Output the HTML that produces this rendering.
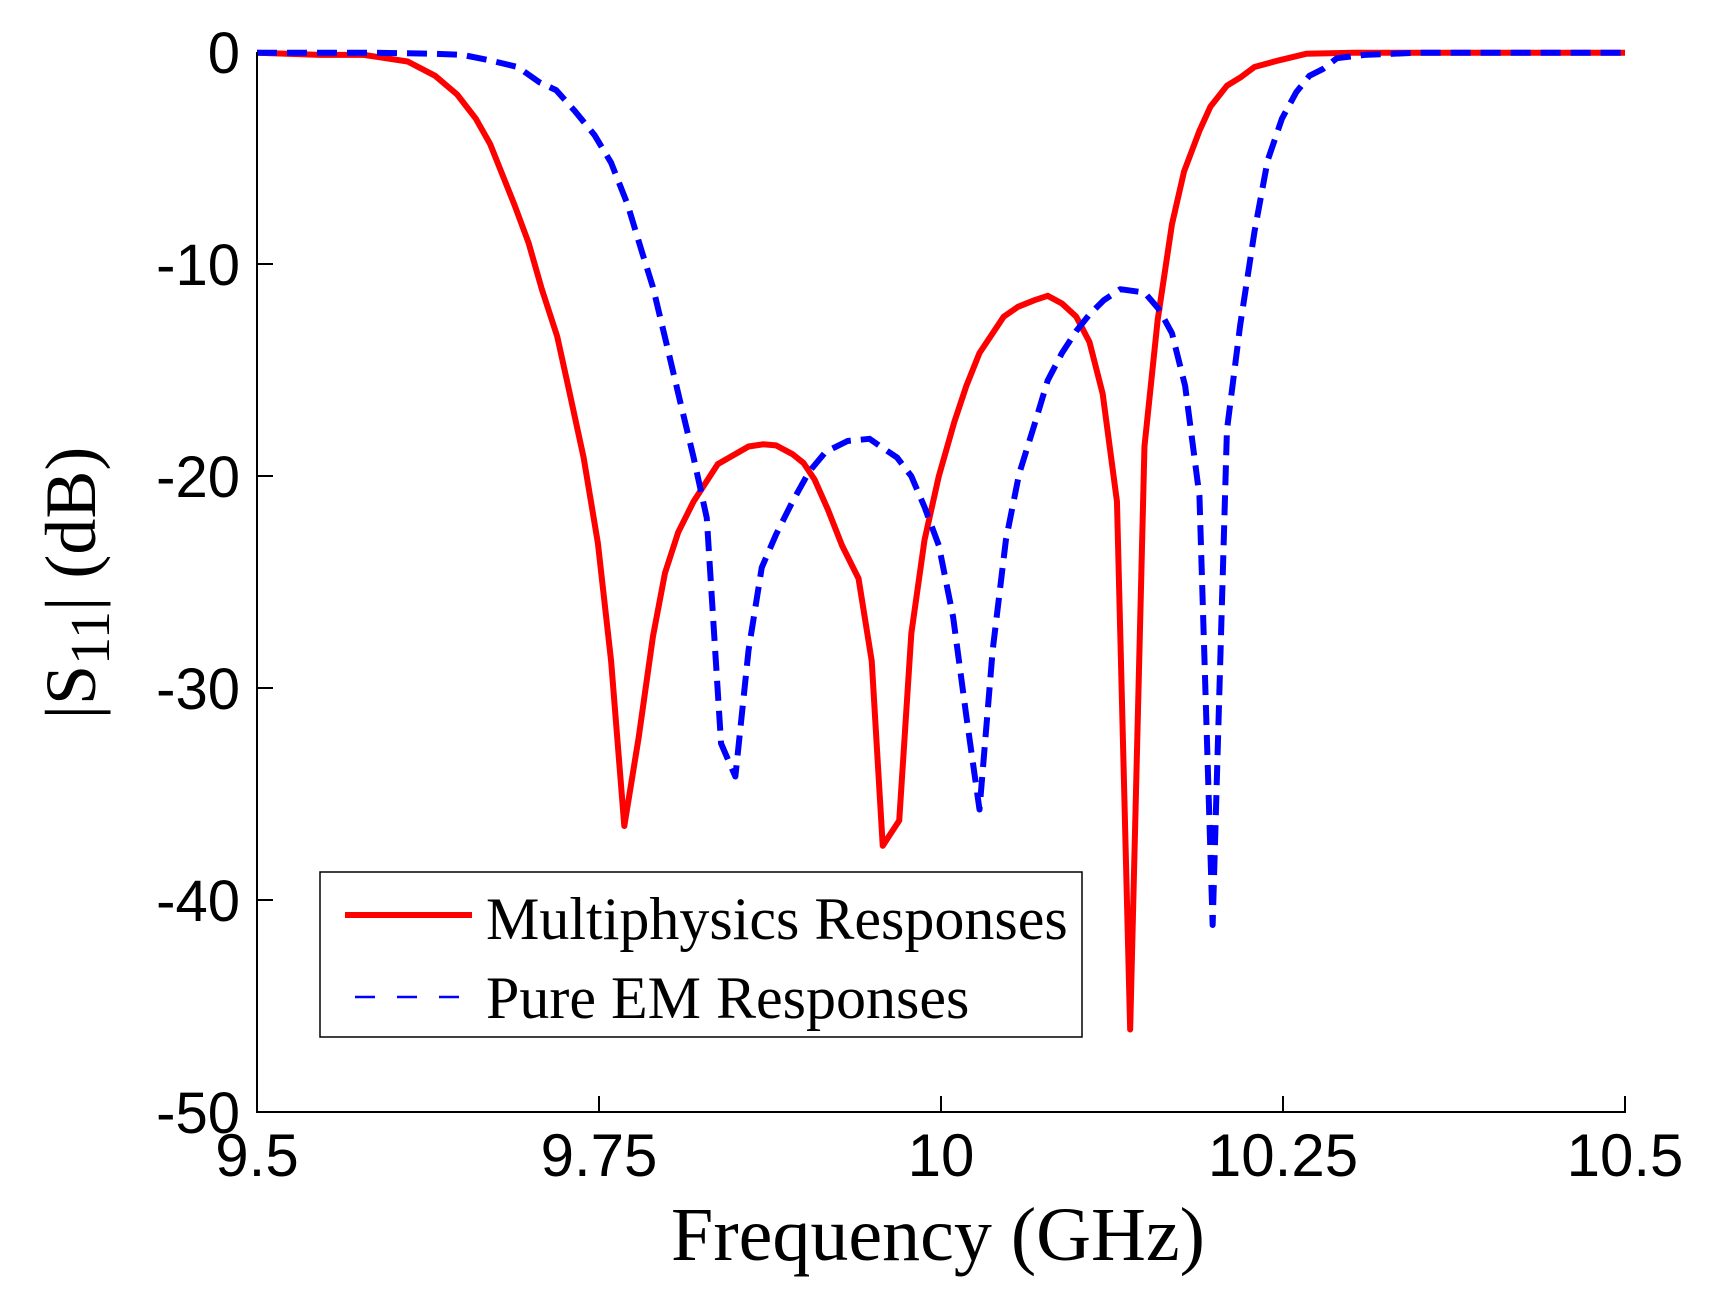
<!DOCTYPE html>
<html><head><meta charset="utf-8"><style>
html,body{margin:0;padding:0;background:#fff;}
svg{display:block;}
</style></head><body>
<svg width="1725" height="1296" viewBox="0 0 1725 1296" xmlns="http://www.w3.org/2000/svg">
<rect width="1725" height="1296" fill="#fff"/>
<g transform="translate(257,52.7) scale(1.0997,1.1) translate(-233,-47)" fill="none" stroke-linejoin="round">
<polyline vector-effect="non-scaling-stroke" stroke="#ff0000" stroke-width="6" points="233,47 290,49 330,49 370,55 395,68 415,85 432,107 445,130 467,185 480,220 492,262 506,305 517,355 530,415 543,493 555,600 567,750 580,670 593,578 604,520 616,483 630,455 652,421 680,405 693,403 705,404 720,412 730,420 740,435 752,462 765,495 780,525 792,600 802,768 817,745 828,575 840,490 853,432 867,383 878,350 890,320 912,287 925,278 940,272 952,268 965,275 978,287 990,310 1002,357 1015,455 1027,935 1040,405 1052,290 1065,203 1076,155 1090,118 1100,96 1115,77 1128,69 1140,60 1162,54 1187,48 1230,47 1477,47"/>
<polyline vector-effect="non-scaling-stroke" stroke="#0000ff" stroke-width="6" stroke-dasharray="20,10" points="233,47 340,47 395,48 420,49 445,54 470,60 490,74 505,81 522,100 540,122 555,147 570,185 583,228 593,260 605,310 618,365 630,415 642,470 655,675 668,705 680,590 692,515 705,485 720,455 735,428 750,410 770,400 790,398 800,405 815,415 828,432 840,460 853,495 866,560 878,650 890,735 902,590 914,490 926,430 940,385 952,345 965,320 978,300 990,285 1003,272 1018,262 1040,265 1053,280 1065,302 1077,350 1090,450 1102,840 1115,390 1127,295 1140,210 1152,145 1165,107 1178,83 1190,68 1202,62 1215,52 1240,49 1290,47 1477,47"/>
</g>
<g stroke="#000" stroke-width="2" fill="none">
<polyline points="257,52 257,1112 1625,1112 1625,1096"/>
<line x1="257" y1="264" x2="273" y2="264"/>
<line x1="257" y1="476" x2="273" y2="476"/>
<line x1="257" y1="688" x2="273" y2="688"/>
<line x1="257" y1="900" x2="273" y2="900"/>
<line x1="599" y1="1112" x2="599" y2="1096"/>
<line x1="941" y1="1112" x2="941" y2="1096"/>
<line x1="1283" y1="1112" x2="1283" y2="1096"/>
</g>
<g font-family="Liberation Sans, Arial, sans-serif" font-size="58" fill="#000" text-anchor="end">
<text x="240" y="73">0</text>
<text x="240" y="285">-10</text>
<text x="240" y="497">-20</text>
<text x="240" y="709">-30</text>
<text x="240" y="921">-40</text>
<text x="240" y="1133">-50</text>
</g>
<g font-family="Liberation Sans, Arial, sans-serif" font-size="60" fill="#000" text-anchor="middle">
<text x="257" y="1176">9.5</text>
<text x="599" y="1176">9.75</text>
<text x="941" y="1176">10</text>
<text x="1283" y="1176">10.25</text>
<text x="1625" y="1176">10.5</text>
</g>
<text x="938" y="1260" font-family="Liberation Serif, Times New Roman, serif" font-size="76" text-anchor="middle">Frequency (GHz)</text>
<text transform="translate(95,583) rotate(-90)" font-family="Liberation Serif, Times New Roman, serif" font-size="72" text-anchor="middle">|S<tspan font-size="56" dy="14">11</tspan><tspan dy="-14">| (dB)</tspan></text>
<rect x="320" y="872" width="762" height="165" fill="#fff" stroke="#000" stroke-width="1.5"/>
<line x1="345" y1="915" x2="472" y2="915" stroke="#ff0000" stroke-width="6"/>
<line x1="355" y1="997" x2="472" y2="997" stroke="#0000ff" stroke-width="2.5" stroke-dasharray="20,22"/>
<g font-family="Liberation Serif, Times New Roman, serif" font-size="60" fill="#000">
<text x="486" y="939">Multiphysics Responses</text>
<text x="486" y="1018">Pure EM Responses</text>
</g>
</svg>
</body></html>
